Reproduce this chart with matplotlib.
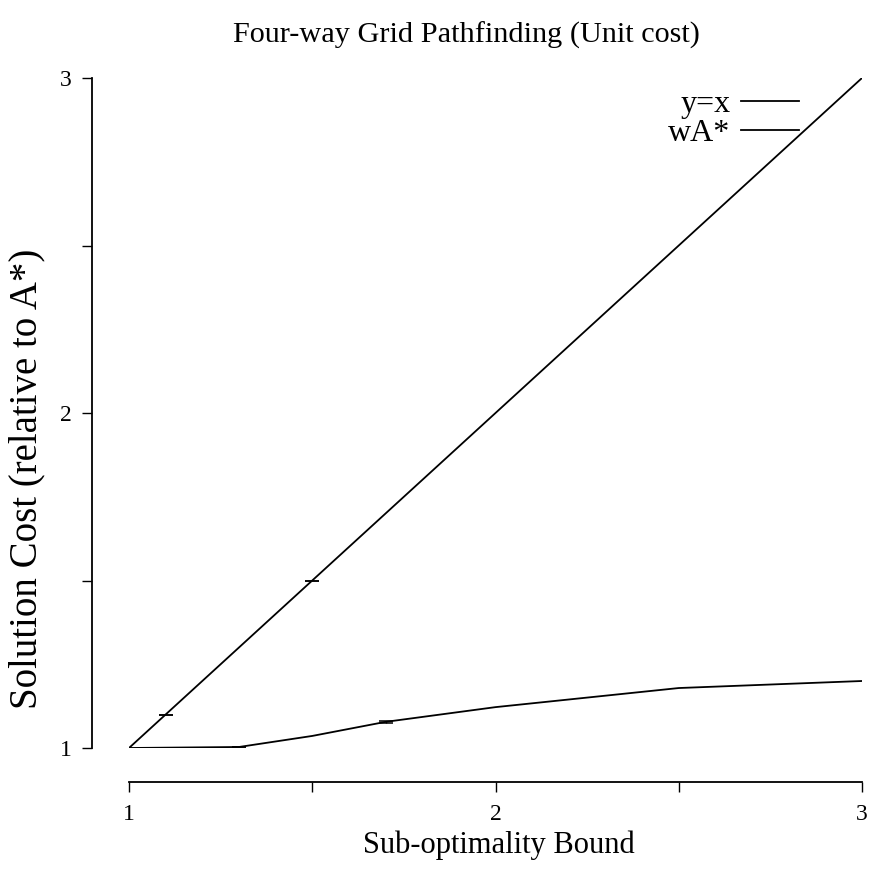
import numpy as np
import matplotlib.pyplot as plt
from matplotlib.ticker import FixedLocator

plt.rcParams['font.family'] = ['Liberation Serif', 'DejaVu Serif']

# y = x reference line
ref_x = [1.0, 3.0]
ref_y = [1.0, 3.0]
# points on the reference line carrying (zero-width) error bars
ref_err_x = [1.1, 1.5]
ref_err = [0.0, 0.0]

# weighted A* mean solution cost per bound
bound = [1.0, 1.3, 1.5, 1.7, 2.0, 2.5, 3.0]
cost = [1.0, 1.003, 1.036, 1.078, 1.122, 1.179, 1.200]
cost_err = [0.0, 0.001, 0.0, 0.003, 0.0, 0.0, 0.0]
err_idx = [1, 3]

fig = plt.figure(figsize=(8.73, 8.74), dpi=100)
ax = fig.add_axes([129 / 873, 126 / 874, 733 / 873, 670 / 874])

ax.plot(ref_x, ref_y, color='black', lw=1.3, label='y=x')
ax.errorbar(ref_err_x, ref_err_x, yerr=ref_err, fmt='none', ecolor='black',
            elinewidth=1.0, capsize=5, capthick=1.1)
ax.plot(bound, cost, color='black', lw=1.3, label='wA*')
ax.errorbar([bound[i] for i in err_idx], [cost[i] for i in err_idx],
            yerr=[cost_err[i] for i in err_idx], fmt='none',
            ecolor='black', elinewidth=1.0, capsize=5, capthick=1.1)

ax.set_xlim(1, 3)
ax.set_ylim(1, 3)

for side in ['top', 'right']:
    ax.spines[side].set_visible(False)
ax.spines['left'].set_position(('outward', 26.5))
ax.spines['bottom'].set_position(('outward', 24.5))
ax.spines['left'].set_bounds(1, 3)
ax.spines['bottom'].set_bounds(1, 3)
ax.spines['left'].set_linewidth(1.3)
ax.spines['bottom'].set_linewidth(1.3)

ax.set_xticks([1, 2, 3])
ax.set_yticks([1, 2, 3])
ax.xaxis.set_minor_locator(FixedLocator([1.5, 2.5]))
ax.yaxis.set_minor_locator(FixedLocator([1.5, 2.5]))
ax.tick_params(which='both', direction='out', length=7, width=1.0,
               labelsize=17, pad=8)
ax.tick_params(axis='x', pad=9)

# axis labels and title
fig.text(499 / 873, 1 - 845 / 874, 'Sub-optimality Bound',
         fontsize=22, ha='center', va='center')
fig.text(27 / 873, 1 - 479 / 874, 'Solution Cost (relative to A*)',
         fontsize=28, ha='center', va='center', rotation=90)
fig.text(466 / 873, 1 - 35 / 874, 'Four-way Grid Pathfinding (Unit cost)',
         fontsize=21.8, ha='center', va='center')

ax.legend(loc='upper right', frameon=False, markerfirst=False, fontsize=23,
          handlelength=1.8, handletextpad=0.35, labelspacing=0.0,
          borderaxespad=0.0, borderpad=0.0, bbox_to_anchor=(0.914, 0.983))

fig.savefig('out.png', dpi=100)
